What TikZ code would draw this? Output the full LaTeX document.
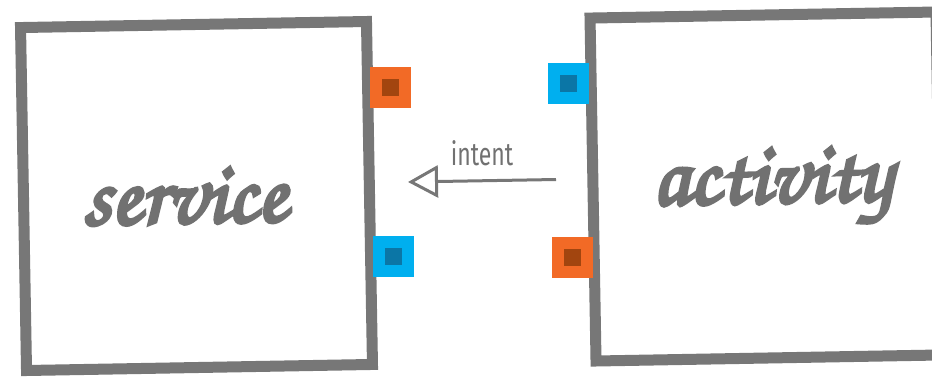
\documentclass[tikz,border=0pt]{standalone}
\usepackage{fontspec}
\usetikzlibrary{arrows.meta, positioning}

\newfontfamily\handfont[FakeBold=4]{texgyrechorus-mediumitalic.otf}
\newfontfamily\labelfont[FakeStretch=0.72]{Fira Sans}

\definecolor{frame}{HTML}{777777}
\definecolor{ink}{HTML}{717171}
\definecolor{portorange}{HTML}{F26A26}
\definecolor{portorangedark}{HTML}{A2450F}
\definecolor{portblue}{HTML}{00AFEF}
\definecolor{portbluedark}{HTML}{0B76A6}

\begin{document}
\begin{tikzpicture}[x=1pt, y=-1pt,
    block/.style={rectangle, draw=frame, line width=11pt, fill=white,
        minimum width=346pt, minimum height=343pt, rotate=1,
        text=ink, font=\handfont\fontsize{88}{88}\selectfont},
    port/.style={rectangle, line width=12pt, minimum size=29pt, inner sep=0pt},
    orangeport/.style={port, draw=portorange, fill=portorangedark},
    blueport/.style={port, draw=portblue, fill=portbluedark}]
    \useasboundingbox (0,0) rectangle (932,376);
    \clip (0,0) rectangle (932,376);

    \node [block] (service) at (196.5,196) {service\kern24pt};
    \node [block] (activity) at (766,186.5) {\kern12pt activity};

    \node [orangeport] (service-top) at (390.5,87) {};
    \node [blueport] (service-bottom) at (393,256) {};
    \node [blueport] (activity-top) at (568.5,83) {};
    \node [orangeport] (activity-bottom) at (572,257.5) {};

    \coordinate (intent-from) at (556,179.5);
    \coordinate (intent-to) at (408,182);
    \draw [frame, line width=3pt, -{Triangle[open, length=30pt, width=32pt]}]
        (intent-from) -- node [midway, above=10pt, text=ink, font=\labelfont\fontsize{32}{32}\selectfont] {intent} (intent-to);
\end{tikzpicture}
\end{document}
